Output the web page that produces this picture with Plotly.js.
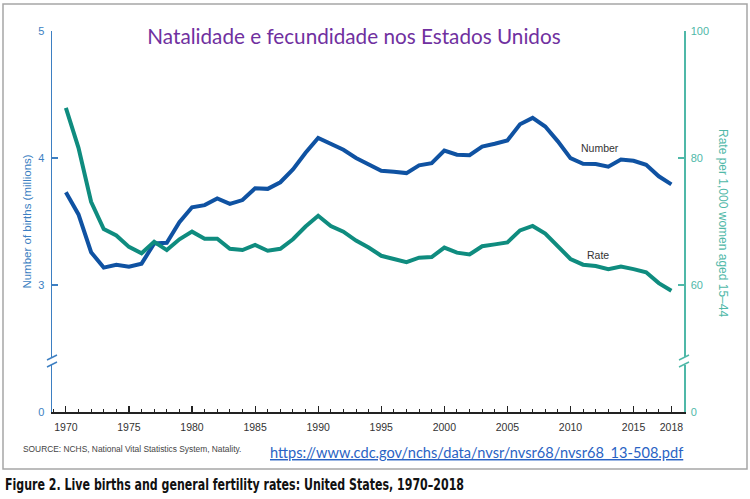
<!DOCTYPE html>
<html>
<head>
<meta charset="utf-8">
<script src="https://cdn.plot.ly/plotly-3.0.1.min.js"></script>
<style>html,body{margin:0;padding:0;background:#fff;}#chart{width:750px;height:499px;}</style>
</head>
<body>
<div id="chart"></div>
<script>
// ---- data ----
const years = [1970,1971,1972,1973,1974,1975,1976,1977,1978,1979,1980,1981,1982,1983,1984,1985,1986,1987,1988,1989,1990,1991,1992,1993,1994,1995,1996,1997,1998,1999,2000,2001,2002,2003,2004,2005,2006,2007,2008,2009,2010,2011,2012,2013,2014,2015,2016,2017,2018];
const birthsMillions = [3.731,3.556,3.258,3.137,3.160,3.144,3.168,3.327,3.333,3.494,3.612,3.629,3.681,3.639,3.669,3.761,3.757,3.809,3.910,4.041,4.158,4.111,4.065,4.000,3.953,3.900,3.891,3.881,3.942,3.959,4.059,4.026,4.022,4.090,4.112,4.138,4.266,4.316,4.248,4.131,3.999,3.954,3.953,3.932,3.988,3.978,3.946,3.856,3.792];
const fertilityRate = [87.9,81.6,73.1,68.8,67.8,66.0,65.0,66.8,65.5,67.2,68.4,67.3,67.3,65.7,65.5,66.3,65.4,65.7,67.2,69.2,70.9,69.3,68.4,67.0,65.9,64.6,64.1,63.6,64.3,64.4,65.9,65.1,64.8,66.1,66.4,66.7,68.6,69.3,68.1,66.2,64.1,63.2,63.0,62.5,62.9,62.5,62.0,60.3,59.1];
const xTickVals = [1970,1975,1980,1985,1990,1995,2000,2005,2010,2015,2018];
const xTickText = ['1970','1975','1980','1985','1990','1995','2000','2005','2010','2015','2018'];
const leftTickVals = [2,3,4,5];
const leftTickText = ['0','3','4','5'];
const rightTickVals = [40,60,80,100];
const rightTickText = ['0','60','80','100'];

// ---- geometry helpers (pixel -> paper) ----
const L = 52, R = 66, T = 31, B = 87, W = 750, H = 499;
const PW = W - L - R, PH = H - T - B;
const px = x => (x - L) / PW;
const py = y => (H - B - y) / PH;

const blue = '#0f52a2';
const teal = '#0f8c7f';
const axBlue = '#3d7fc2';
const axTeal = '#4fb8a8';

const traces = [
  {x: years, y: birthsMillions, type: 'scatter', mode: 'lines', name: 'Number',
   line: {color: blue, width: 4}, yaxis: 'y', hoverinfo: 'x+y'},
  {x: years, y: fertilityRate, type: 'scatter', mode: 'lines', name: 'Rate',
   line: {color: teal, width: 4}, yaxis: 'y2', hoverinfo: 'x+y'}
];

function breakMarks(xc, color) {
  return [
    {type:'rect', xref:'paper', yref:'paper', x0: px(xc-2), x1: px(xc+2), y0: py(365), y1: py(357), fillcolor:'#fff', line:{width:0}, layer:'above'},
    {type:'line', xref:'paper', yref:'paper', x0: px(xc-5), x1: px(xc+5), y0: py(360), y1: py(355), line:{color: color, width: 1.5}},
    {type:'line', xref:'paper', yref:'paper', x0: px(xc-5), x1: px(xc+5), y0: py(367), y1: py(362), line:{color: color, width: 1.5}}
  ];
}

function ann(text, x, y, xanchor, font, extra) {
  return Object.assign({text: text, x: px(x), y: py(y), xref: 'paper', yref: 'paper',
    xanchor: xanchor, yanchor: 'middle', showarrow: false, font: font}, extra || {});
}

const layout = {
  width: W, height: H,
  margin: {l: L, r: R, t: T, b: B},
  paper_bgcolor: '#fff', plot_bgcolor: '#fff',
  showlegend: false,
  font: {family: 'Liberation Sans, Arial, sans-serif', color: '#333'},
  title: {text: 'Natalidade e fecundidade nos Estados Unidos',
          font: {family: 'Lato, Open Sans, sans-serif', size: 20.7, color: '#7030a0'},
          xref: 'container', yref: 'container', x: 354/W, xanchor: 'center', y: 1 - 37/H, yanchor: 'middle'},
  xaxis: {range: [1968.9, 2019], tickvals: xTickVals, ticktext: xTickText,
          ticks: 'inside', ticklen: 6, tickwidth: 1.2, tickcolor: '#222',
          showline: true, linecolor: '#222', linewidth: 1.5, showgrid: false, zeroline: false,
          minor: {tick0: 1970, dtick: 1, ticks: 'inside', ticklen: 3, tickcolor: '#222', tickwidth: 1, showgrid: false},
          ticklabelstandoff: 5,
          tickfont: {family: 'Liberation Sans, Arial', size: 10.5, color: '#333'}, fixedrange: true},
  yaxis: {range: [2, 5], tickvals: leftTickVals, ticktext: leftTickText,
          ticks: 'inside', ticklen: 6, tickcolor: axBlue, tickwidth: 1.2,
          showline: true, linecolor: axBlue, linewidth: 1.5, showgrid: false, zeroline: false,
          ticklabelstandoff: 4,
          tickfont: {size: 11, color: axBlue},
          title: {text: 'Number of births (millions)', font: {size: 11.5, color: axBlue}, standoff: 4}},
  yaxis2: {range: [40, 100], tickvals: rightTickVals, ticktext: rightTickText, overlaying: 'y', side: 'right',
           ticks: 'inside', ticklen: 6, tickcolor: axTeal, tickwidth: 1.2,
           showline: true, linecolor: axTeal, linewidth: 1.5, showgrid: false, zeroline: false,
           ticklabelstandoff: 3,
           tickfont: {size: 11, color: axTeal}},
  shapes: [
    {type:'rect', xref:'paper', yref:'paper', x0: px(3), x1: px(747), y0: py(469), y1: py(4), line:{color:'#a6a6a6', width: 1.5}, fillcolor:'rgba(0,0,0,0)'},
    ...breakMarks(52, axBlue),
    ...breakMarks(W - R, axTeal)
  ],
  annotations: [
    ann('Number', 600, 148, 'center', {size: 10.5, color: '#333'}),
    ann('Rate', 598, 255, 'center', {size: 10.5, color: '#333'}),
    ann('Rate per 1,000 women aged 15–44', 723, 223, 'center', {size: 12, color: axTeal}, {textangle: 90}),
    ann('SOURCE: NCHS, National Vital Statistics System, Natality.', 21, 449, 'left', {size: 8.4, color: '#444'}),
    ann('<u>https://www.cdc.gov/nchs/data/nvsr/nvsr68/nvsr68_13-508.pdf</u>', 268, 452, 'left', {family: 'Lato, Open Sans, sans-serif', size: 14.6, color: '#2a63c4'}),
    ann('<b>Figure 2. Live births and general fertility rates: United States, 1970–2018</b>', 3, 485, 'left', {family: 'DejaVu Sans Condensed, Liberation Sans Narrow, sans-serif', size: 15, color: '#111'}, {align: 'left'})
  ]
};

Plotly.newPlot('chart', traces, layout, {displayModeBar: false, staticPlot: true}).then(function () {
  // condense the caption to the width of the original figure caption
  const texts = document.querySelectorAll('.annotation-text');
  texts.forEach(function (t) {
    if (t.textContent.indexOf('Figure 2.') === 0) {
      t.setAttribute('textLength', '459');
      t.setAttribute('lengthAdjust', 'spacingAndGlyphs');
    }
  });
});
</script>
</body>
</html>
